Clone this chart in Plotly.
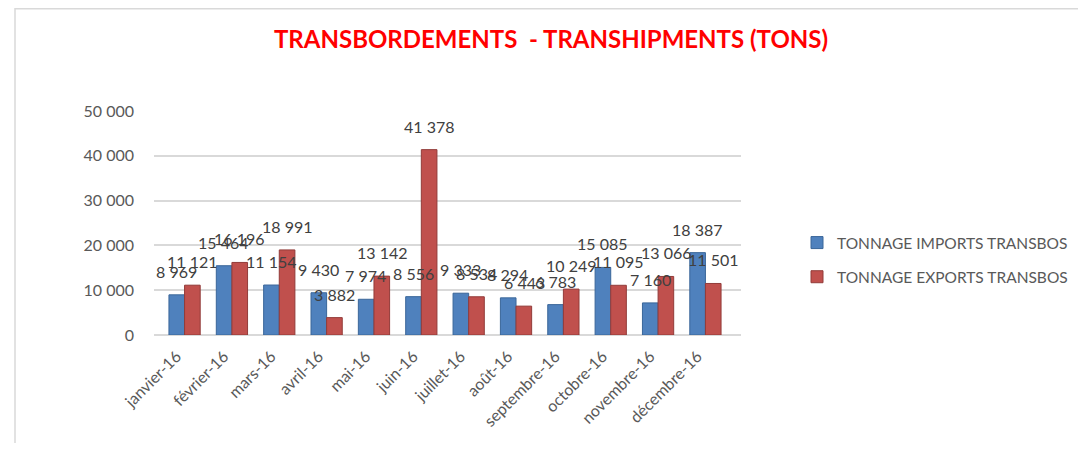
import plotly.graph_objects as go

months = ["janvier-16", "février-16", "mars-16", "avril-16", "mai-16", "juin-16",
          "juillet-16", "août-16", "septembre-16", "octobre-16", "novembre-16", "décembre-16"]
imports_t = [8969, 15464, 11154, 9430, 7974, 8556, 9333, 8294, 6783, 15085, 7160, 18387]
exports_t = [11121, 16196, 18991, 3882, 13142, 41378, 8534, 6443, 10249, 11095, 13066, 11501]
y_ticks = [0, 10000, 20000, 30000, 40000, 50000]
y_tick_labels = ["0", "10 000", "20 000", "30 000", "40 000", "50 000"]

def fmt(v):
    return f"{v:,}".replace(",", " ")

# figure sits 8px inside the page (body margin)
W, H = 1078, 435
L, T = 146, 103
pw, ph = 587, 224
R = W - L - pw
B = H - T - ph

font = "Lato"
BARGAP = 0.34
cat_px = pw / len(months)
bar_px = cat_px * (1 - BARGAP) / 2

fig = go.Figure()
fig.add_trace(go.Bar(
    x=months, y=imports_t, name="TONNAGE IMPORTS TRANSBOS", legendgroup="imp",
    marker=dict(color="#4f81bd", line=dict(color="#3a6699", width=1)),
))
fig.add_trace(go.Bar(
    x=months, y=exports_t, name="TONNAGE EXPORTS TRANSBOS", legendgroup="exp",
    marker=dict(color="#c0504d", line=dict(color="#923b39", width=1)),
))

annotations = []
for series, sign in ((imports_t, -1), (exports_t, 1)):
    for m, v in zip(months, series):
        annotations.append(dict(
            x=m, y=v, xref="x", yref="y", text=fmt(v), showarrow=False,
            xshift=sign * bar_px / 2, yshift=12, yanchor="bottom", xanchor="center",
            font=dict(size=16, color="#404040", family=font)))

fig.update_layout(
    width=W, height=H,
    margin=dict(l=L, r=R, t=T, b=B, autoexpand=False),
    paper_bgcolor="white", plot_bgcolor="white",
    barmode="group", bargap=BARGAP, bargroupgap=0.0,
    title=dict(text="<b>TRANSBORDEMENTS  - TRANSHIPMENTS (TONS)</b>",
               x=543 / W, xanchor="center", y=1 - 32 / H, yanchor="middle",
               font=dict(size=24, color="#ff0000", family=font)),
    font=dict(family=font, color="#595959", size=16),
    legend=dict(x=(789 - L) / pw, y=(T + ph - 218) / ph, xanchor="left", yanchor="top",
                font=dict(size=15.5, color="#595959", family=font),
                itemwidth=30, tracegroupgap=11, traceorder="grouped",
                bgcolor="rgba(0,0,0,0)"),
    annotations=annotations,
    shapes=[dict(type="rect", xref="paper", yref="paper",
                 x0=(7 - L) / pw, x1=(1077 - L) / pw,
                 y0=(T + ph - 460) / ph, y1=(T + ph - 0.75) / ph,
                 line=dict(color="#d9d9d9", width=1.5), fillcolor="rgba(0,0,0,0)")],
)
fig.update_xaxes(tickangle=-45, showgrid=False, showline=False, ticks="",
                 ticklabelstandoff=8, ticklabelshift=-8,
                 tickfont=dict(size=16, color="#595959", family=font))
fig.update_yaxes(range=[0, 50000], tickvals=y_ticks, ticktext=y_tick_labels,
                 showgrid=True, gridcolor="#d9d9d9", gridwidth=1.5, zeroline=True,
                 zerolinecolor="#d9d9d9", zerolinewidth=1.5, showline=False, ticks="",
                 ticklabelstandoff=19,
                 tickfont=dict(size=16, color="#595959", family=font))

fig.write_html("out.html")
